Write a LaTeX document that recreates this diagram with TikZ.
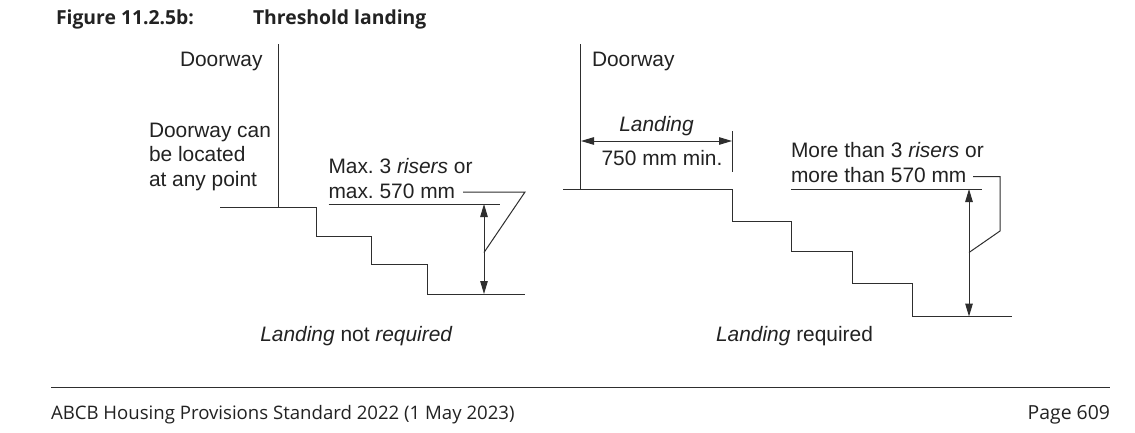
\documentclass[tikz,border=0pt]{standalone}
\usepackage{fontspec}
\setmainfont{Liberation Sans}
\newfontfamily\uifont{Open Sans}
\usetikzlibrary{arrows.meta}
\definecolor{ink}{HTML}{222222}
\definecolor{rule}{HTML}{2E2E2E}
\frenchspacing
\tikzset{
  x=1pt,y=-1pt,
  edge/.style={draw=rule,line width=1pt},
  dim/.style={draw=rule,line width=1pt,{Triangle[length=13pt,width=7.5pt]}-{Triangle[length=13pt,width=7.5pt]}},
  lab/.style={anchor=base west,inner sep=0pt,outer sep=0pt,text=ink,font=\fontsize{20.9}{24}\selectfont\frenchspacing},
  midlab/.style={anchor=base,inner sep=0pt,outer sep=0pt,text=ink,font=\fontsize{20.9}{24}\selectfont\frenchspacing},
  ttl/.style={anchor=base west,inner sep=0pt,outer sep=0pt,text=ink,font=\fontsize{19.35}{22}\selectfont\uifont\bfseries},
  foot/.style={anchor=base west,inner sep=0pt,outer sep=0pt,text=ink,font=\fontsize{18.6}{21}\selectfont\uifont},
}
\begin{document}
\begin{tikzpicture}
\useasboundingbox (0,0) rectangle (1135,432);
\fill[white] (0,0) rectangle (1135,432);
% title
\node[ttl] (figno) at (56,24) {Figure 11.2.5b:};
\node[ttl] (figname) at (253,24) {Threshold landing};
% left figure
\node[lab] (d1) at (180,66) {Doorway};
\node[lab] (c1) at (149,137) {Doorway can};
\node[lab] (c2) at (149,161) {be located};
\node[lab] (c3) at (149,186) {at any point};
\node[lab] (m1) at (328.5,173) {Max. 3 \textit{risers} or};
\node[lab] (m2) at (328.5,198) {max. 570 mm};
\node[midlab] (cap1) at (356.5,341) {\textit{Landing} not \textit{required}};
\coordinate (ld1) at (278,44);
\coordinate (ld2) at (278,207.5);
\coordinate (la) at (484,204);
\coordinate (lb) at (484,294);
\coordinate (lk) at (484,252.5);
\draw[edge] (ld1) -- (ld2);
\draw[edge] (220,207.5) -- (316,207.5) -- (316,236.5) -- (371.5,236.5) -- (371.5,264.5) -- (427.5,264.5) -- (427.5,294.5) -- (524.5,294.5);
\draw[edge] (328.5,204) -- (500,204);
\draw[dim] (la) -- (lb);
\draw[edge,line join=miter] (463,192) -- (525,192) -- (lk);
% right figure
\node[lab] (d2) at (592,66) {Doorway};
\node[midlab] (l1) at (656.5,131) {\textit{Landing}};
\node[midlab] (l2) at (662,165) {750 mm min.};
\node[lab] (r1) at (791,157) {More than 3 \textit{risers} or};
\node[lab] (r2) at (791,182) {more than 570 mm};
\node[midlab] (cap2) at (794.5,341) {\textit{Landing} required};
\coordinate (rd1) at (580.5,44);
\coordinate (rd2) at (580.5,189);
\coordinate (ta) at (732,131);
\coordinate (tb) at (732,172);
\coordinate (ra) at (969,189);
\coordinate (rb) at (969,316.5);
\coordinate (rk) at (969,252.5);
\draw[edge] (rd1) -- (rd2);
\draw[dim] (581,141) -- (732,141);
\draw[edge] (ta) -- (tb);
\draw[edge] (563,189) -- (732,189) -- (732,221.5) -- (791,221.5) -- (791,251) -- (852,251) -- (852,283) -- (912,283) -- (912,316.5) -- (1012,316.5);
\draw[edge] (791,189) -- (982,189);
\draw[dim] (ra) -- (rb);
\draw[edge,line join=miter] (973,176.5) -- (1000,176.5) -- (1000,231) -- (rk);
% footer
\coordinate (f1) at (51,387.5);
\coordinate (f2) at (1110,387.5);
\draw[draw=rule,line width=1pt] (f1) -- (f2);
\node[foot] (ft1) at (51,419) {ABCB Housing Provisions Standard 2022 (1 May 2023)};
\node[foot,anchor=base east,font=\fontsize{19.4}{21}\selectfont\uifont] (ft2) at (1110,419) {Page 609};
\end{tikzpicture}
\end{document}
